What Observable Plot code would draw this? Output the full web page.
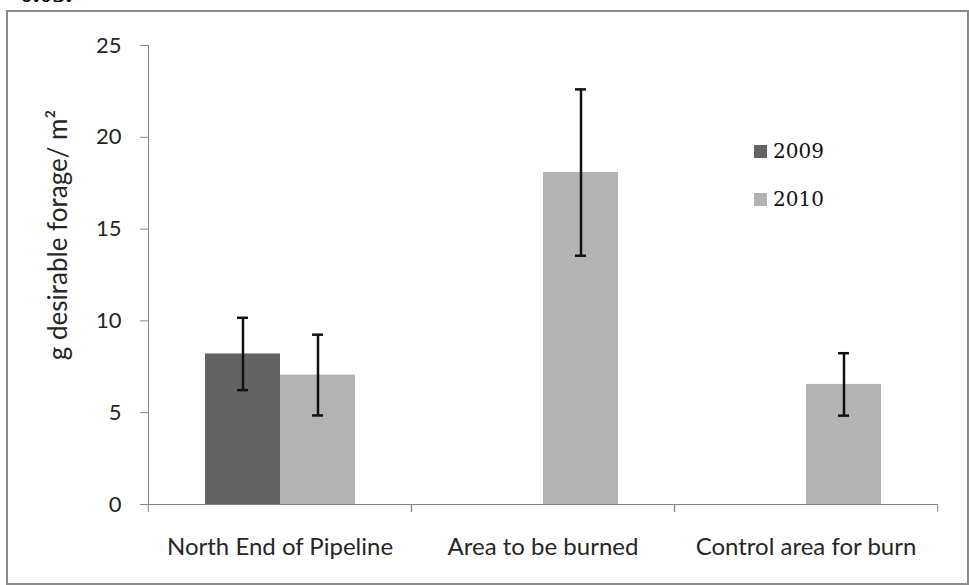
<!DOCTYPE html>
<html>
<head>
<meta charset="utf-8">
<script src="https://cdn.jsdelivr.net/npm/d3@7"></script>
<script src="https://cdn.jsdelivr.net/npm/@observablehq/plot@0.6"></script>
<style>
  html, body { margin: 0; padding: 0; background: #fff; overflow: hidden; }
  #wrap { position: relative; width: 969px; height: 585px; }
  #wrap svg { position: absolute; left: 0; top: 0; }
  .frame { position: absolute; left: 6px; top: 10px; width: 963px; height: 575px; box-sizing: border-box; border: 2px solid #8a8a8a; }
  .cut { position: absolute; left: 20px; top: -19px; font: bold 26px "Liberation Serif", serif; line-height: 1; color: #000; }
  .ylab { position: absolute; left: 57px; top: 235px; transform: translate(-50%, -50%) rotate(-90deg); font: 26px Lato, sans-serif; color: #262626; white-space: nowrap; }
  .legend { position: absolute; left: 754px; font: 20px "DejaVu Serif", serif; color: #111; display: flex; align-items: center; }
  .legend span.sw { display: inline-block; width: 13px; height: 13px; margin-right: 6px; }
</style>
</head>
<body>
<div id="wrap">
  <div class="cut">0.05.</div>
  <div class="frame"></div>
</div>
<script>
const categories = ["North End of Pipeline", "Area to be burned", "Control area for burn"];
const years = ["2009", "2010"];
const values2009 = [8.2, null, null];
const values2010 = [7.05, 18.08, 6.54];
const err2009 = [1.97, null, null];
const err2010 = [2.2, 4.53, 1.7];
const yTicks = [0, 5, 10, 15, 20, 25];
const yLabel = "g desirable forage/ m²";
const colors = ["#636363", "#b3b3b3"];

const rows = [];
categories.forEach((c, i) => {
  if (values2009[i] != null) rows.push({cat: c, year: years[0], value: values2009[i], err: err2009[i]});
  if (values2010[i] != null) rows.push({cat: c, year: years[1], value: values2010[i], err: err2010[i]});
});

const gray = "#868686";
const half = (937 - 147) / categories.length / 2;

const chart = Plot.plot({
  width: 969,
  height: 585,
  marginLeft: 147,
  marginRight: 32,
  marginTop: 45,
  marginBottom: 81,
  style: {fontFamily: "Lato, sans-serif", background: "transparent"},
  fx: {domain: categories, padding: 0, axis: null, label: null},
  x: {domain: years, paddingInner: 0, paddingOuter: 0.75, axis: null},
  y: {domain: [0, 25], axis: null},
  color: {domain: years, range: colors},
  marks: [
    Plot.axisY({ticks: yTicks, tickSize: 8, tickPadding: 19, fontSize: 22, stroke: gray, fill: "#262626", label: null, tickFormat: d => d}),
    Plot.frame({anchor: "left", stroke: gray, facetAnchor: "left"}),
    Plot.barY(rows, {fx: "cat", x: "year", y: "value", fill: "year"}),
    Plot.ruleY([0], {stroke: gray}),
    Plot.axisFx({anchor: "bottom", tickSize: 8, text: null, dx: -half, stroke: gray, label: null}),
    Plot.axisFx({anchor: "bottom", tickSize: 8, text: null, dx: half, stroke: gray, label: null}),
    Plot.axisFx({anchor: "bottom", tickSize: 0, tickPadding: 33, fontSize: 24, fill: "#262626", label: null}),
    Plot.ruleX(rows, {fx: "cat", x: "year", y1: d => d.value - d.err, y2: d => d.value + d.err, stroke: "#111", strokeWidth: 2.5}),
    Plot.tickY(rows, {fx: "cat", x: "year", y: d => d.value - d.err, stroke: "#111", strokeWidth: 2.5, insetLeft: 32, insetRight: 32}),
    Plot.tickY(rows, {fx: "cat", x: "year", y: d => d.value + d.err, stroke: "#111", strokeWidth: 2.5, insetLeft: 32, insetRight: 32})
  ]
});

const wrap = document.getElementById("wrap");
wrap.insertBefore(chart, wrap.firstChild);

const ylab = document.createElement("div");
ylab.className = "ylab";
ylab.textContent = yLabel;
wrap.appendChild(ylab);

const legendTops = [139, 187];
years.forEach((y, i) => {
  const d = document.createElement("div");
  d.className = "legend";
  d.style.top = legendTops[i] + "px";
  const sw = document.createElement("span");
  sw.className = "sw";
  sw.style.background = colors[i];
  d.appendChild(sw);
  d.appendChild(document.createTextNode(y));
  wrap.appendChild(d);
});
</script>
</body>
</html>
